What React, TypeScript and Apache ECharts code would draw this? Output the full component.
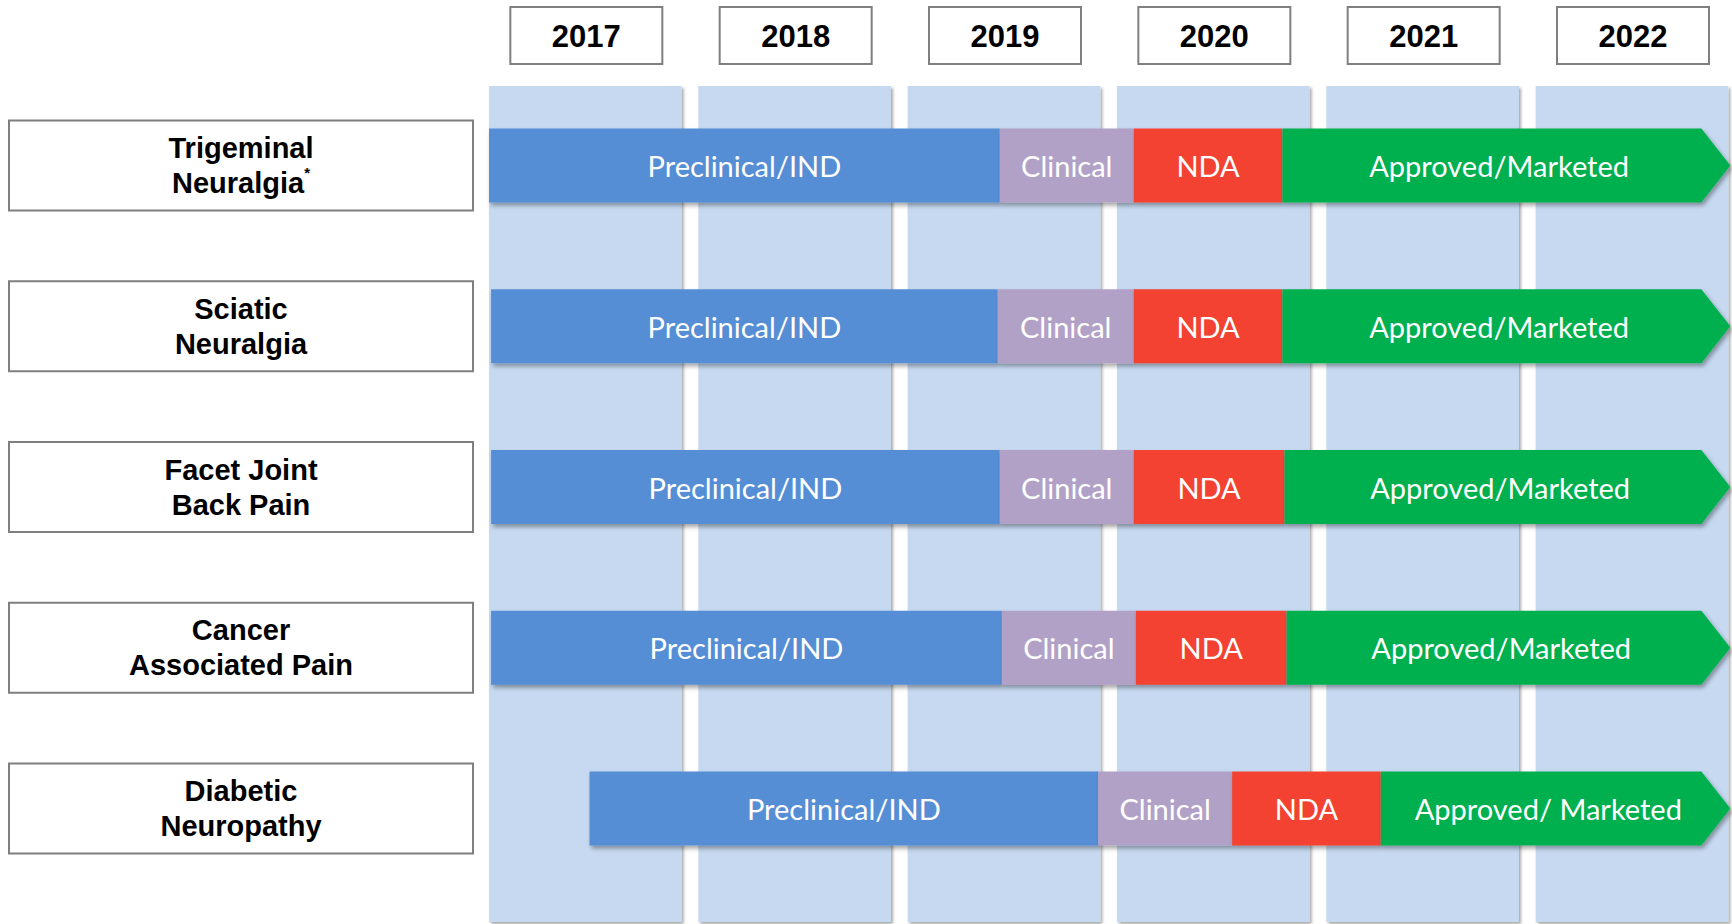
import React, { useEffect, useRef } from "react";
import * as echarts from "echarts";

// ---- data ----
const years = [2017, 2018, 2019, 2020, 2021, 2022];
const indications = [
  "Trigeminal\nNeuralgia",
  "Sciatic\nNeuralgia",
  "Facet Joint\nBack Pain",
  "Cancer\nAssociated Pain",
  "Diabetic\nNeuropathy",
];
const footnotes = ["*", "", "", "", ""];
const stageNames = ["Preclinical/IND", "Clinical", "NDA", "Approved/Marketed"];
const approvedLabels = [
  "Approved/Marketed",
  "Approved/Marketed",
  "Approved/Marketed",
  "Approved/Marketed",
  "Approved/ Marketed",
];
// stage boundaries in fractional years, per indication
const preclinicalStart = [2017.0, 2017.01, 2017.01, 2017.01, 2017.48];
const clinicalStart = [2019.44, 2019.43, 2019.44, 2019.45, 2019.91];
const ndaStart = [2020.08, 2020.08, 2020.08, 2020.09, 2020.55];
const approvedStart = [2020.79, 2020.79, 2020.8, 2020.81, 2021.26];
const approvedEnd = [2022.93, 2022.93, 2022.93, 2022.93, 2022.93];

// ---- styles ----
const stageColors = ["#558ED5", "#B2A1C7", "#F34230", "#00B050"];
const columnColor = "#C6D9F1";
const boxBorder = "#7F7F7F";
const labelFont = "'Liberation Sans', Arial, sans-serif";
const barFont = "Lato, 'Open Sans', sans-serif";

const stageData: number[][] = [];
indications.forEach((_, r) => {
  const b = [preclinicalStart[r], clinicalStart[r], ndaStart[r], approvedStart[r], approvedEnd[r]];
  for (let s = 0; s < 4; s++) stageData.push([b[s], b[s + 1], r, s]);
});

function buildOption(): any {
  return {
    animation: false,
    backgroundColor: "#ffffff",
    grid: {
      left: 489,
      top: 85,
      width: 1256,
      height: 804,
      containLabel: false,
      outerBoundsMode: "none",
    },
    xAxis: { type: "value", min: 2017, max: 2023, show: false },
    yAxis: { type: "category", data: indications, inverse: true, show: false },
    series: [
      {
        type: "custom",
        name: "years",
        clip: false,
        silent: true,
        encode: { x: 0, y: 1 },
        data: years.map((y) => [y, 0]),
        renderItem: (params: any, api: any) => {
          const yr = api.value(0);
          const cs = params.coordSys;
          const x0 = api.coord([yr, 0])[0];
          const x1 = api.coord([yr + 0.92, 0])[0];
          const cx = api.coord([yr + 0.465, 0])[0];
          return {
            type: "group",
            children: [
              {
                type: "rect",
                shape: { x: x0, y: cs.y + 1, width: x1 - x0, height: 922 - cs.y - 1 },
                style: {
                  fill: columnColor,
                  shadowColor: "rgba(0,0,0,0.35)",
                  shadowBlur: 3,
                  shadowOffsetX: 2,
                  shadowOffsetY: 2,
                },
              },
              {
                type: "rect",
                shape: { x: cx - 76, y: 7, width: 152, height: 57 },
                style: { fill: "#ffffff", stroke: boxBorder, lineWidth: 2 },
              },
              {
                type: "text",
                x: cx,
                y: 36,
                style: {
                  text: String(yr),
                  fill: "#000",
                  fontSize: 31,
                  fontWeight: "bold",
                  fontFamily: labelFont,
                  align: "center",
                  verticalAlign: "middle",
                },
              },
            ],
          };
        },
      },
      {
        type: "custom",
        name: "indications",
        clip: false,
        silent: true,
        encode: { x: 0, y: 1 },
        data: indications.map((_, i) => [2017, i]),
        renderItem: (params: any, api: any) => {
          const r = api.value(1);
          const cs = params.coordSys;
          const cy = api.coord([2017, r])[1];
          const left = 9;
          const right = cs.x - 16;
          const txt = indications[r] + (footnotes[r] ? "{sup|" + footnotes[r] + "}" : "");
          return {
            type: "group",
            children: [
              {
                type: "rect",
                shape: { x: left, y: cy - 45, width: right - left, height: 90 },
                style: { fill: "#ffffff", stroke: boxBorder, lineWidth: 2 },
              },
              {
                type: "text",
                x: (left + right) / 2,
                y: cy,
                style: {
                  text: txt,
                  fill: "#000",
                  fontSize: 29,
                  fontWeight: "bold",
                  fontFamily: labelFont,
                  lineHeight: 35,
                  align: "center",
                  verticalAlign: "middle",
                  rich: {
                    sup: {
                      fontSize: 15,
                      fontWeight: "bold",
                      fontFamily: labelFont,
                      fill: "#000",
                      verticalAlign: "top",
                      lineHeight: 35,
                    },
                  },
                },
              },
            ],
          };
        },
      },
      {
        type: "custom",
        name: "stages",
        clip: false,
        silent: true,
        encode: { x: [0, 1], y: 2 },
        data: stageData,
        renderItem: (params: any, api: any) => {
          const start = api.value(0);
          const end = api.value(1);
          const r = api.value(2);
          const s = api.value(3);
          const [xs, yc] = api.coord([start, r]);
          const xe = api.coord([end, r])[0];
          const h = api.size([0, 1])[1] * 0.46;
          const top = yc - h / 2;
          const shadow = {
            shadowColor: "rgba(0,0,0,0.35)",
            shadowBlur: 4,
            shadowOffsetX: 2,
            shadowOffsetY: 3,
          };
          const label = s === 3 ? approvedLabels[r] : stageNames[s];
          let shape: any;
          let textX: number;
          if (s === 3) {
            const head = 29;
            const xb = xe - head;
            shape = {
              type: "polygon",
              shape: {
                points: [
                  [xs, top],
                  [xb, top],
                  [xe, yc],
                  [xb, top + h],
                  [xs, top + h],
                ],
              },
              style: { fill: stageColors[s], ...shadow },
            };
            textX = (xs + (xb + xe) / 2) / 2;
          } else {
            shape = {
              type: "rect",
              shape: { x: xs, y: top, width: xe - xs, height: h },
              style: { fill: stageColors[s], ...shadow },
            };
            textX = (xs + xe) / 2;
          }
          return {
            type: "group",
            children: [
              shape,
              {
                type: "text",
                x: textX,
                y: yc,
                style: {
                  text: label,
                  fill: "#ffffff",
                  fontSize: 29,
                  fontFamily: barFont,
                  align: "center",
                  verticalAlign: "middle",
                },
              },
            ],
          };
        },
      },
    ],
  };
}

export default function App() {
  const ref = useRef<HTMLDivElement>(null);
  useEffect(() => {
    document.body.style.margin = "0";
    const chart = echarts.init(ref.current as HTMLDivElement, null, { renderer: "svg" });
    chart.setOption(buildOption());
    return () => chart.dispose();
  }, []);
  return <div ref={ref} style={{ width: 1732, height: 924, background: "#ffffff" }} />;
}
